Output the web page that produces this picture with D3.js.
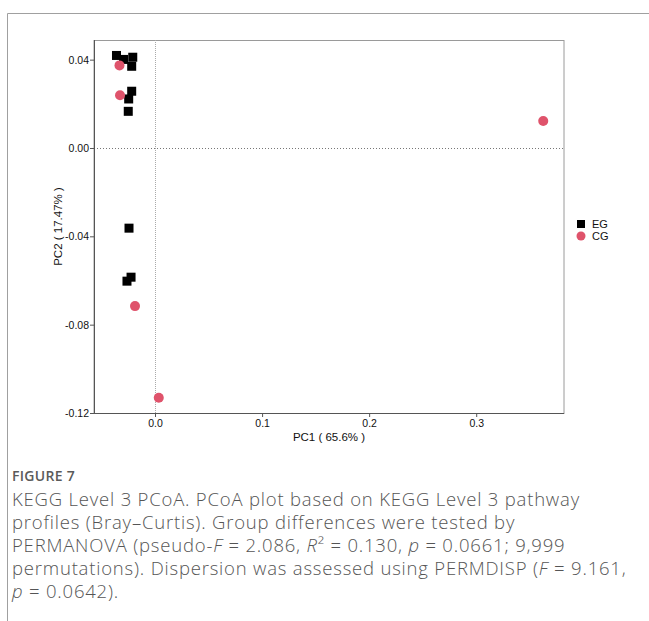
<!DOCTYPE html>
<html>
<head>
<meta charset="utf-8">
<script src="https://cdn.jsdelivr.net/npm/d3@7"></script>
<style>
  html, body { margin: 0; padding: 0; background: #fff; }
  svg { display: block; }
</style>
</head>
<body>
<svg id="chart" width="649" height="621"></svg>
<script>
// ---- data ----
const groups = ["EG", "CG"];
const egX = [-0.0360, -0.0294, -0.0208, -0.0218, -0.0218, -0.0246, -0.0250, -0.0243, -0.0224, -0.0262];
const egY = [0.0419, 0.0401, 0.0411, 0.0370, 0.0257, 0.0222, 0.0166, -0.0363, -0.0585, -0.0603];
const cgX = [-0.0332, -0.0327, -0.0187, 0.0035, 0.3626];
const cgY = [0.0374, 0.0239, -0.0716, -0.1131, 0.0122];
const xTicks = [0.0, 0.1, 0.2, 0.3];
const yTicks = [-0.12, -0.08, -0.04, 0.00, 0.04];
const xTitle = "PC1 ( 65.6% )";
const yTitle = "PC2 ( 17.47% )";

const svg = d3.select("#chart");

// outer figure frame
svg.append("path").attr("d", "M7.5,621 L7.5,13.5 L649,13.5")
  .attr("fill", "none").attr("stroke", "#a0a0a0").attr("stroke-width", 1);

const L = 94, R = 564, T = 40, B = 413;
const x = d3.scaleLinear().domain([-0.057, 0.382]).range([L, R]);
const y = d3.scaleLinear().domain([-0.12, 0.0489]).range([B, T]);

// panel border
svg.append("rect").attr("x", L).attr("y", T + 0.5).attr("width", R - L).attr("height", B - T)
  .attr("fill", "none").attr("stroke", "#9a9a9a").attr("stroke-width", 1);

// reference dotted lines
svg.append("line").attr("x1", L).attr("x2", R).attr("y1", Math.round(y(0)) + 0.5).attr("y2", Math.round(y(0)) + 0.5)
  .attr("stroke", "#777").attr("stroke-width", 1).attr("stroke-dasharray", "1,2");
svg.append("line").attr("y1", T).attr("y2", B).attr("x1", Math.round(x(0)) + 0.5).attr("x2", Math.round(x(0)) + 0.5)
  .attr("stroke", "#aaa").attr("stroke-width", 1).attr("stroke-dasharray", "1,1");

const fmtX = d => d3.format(".1f")(d).replace("−", "-");
const fmtY = d => d3.format(".2f")(d).replace("−", "-");

// axes
const gx = svg.append("g").attr("transform", `translate(0,${B})`)
  .call(d3.axisBottom(x).tickValues(xTicks).tickFormat(fmtX).tickSize(4).tickSizeOuter(0));
const gy = svg.append("g").attr("transform", `translate(${L},0)`)
  .call(d3.axisLeft(y).tickValues(yTicks).tickFormat(fmtY).tickSize(4).tickSizeOuter(0));
[gx, gy].forEach(g => {
  g.select(".domain").attr("stroke", "#555");
  g.selectAll(".tick line").attr("stroke", "#555");
  g.selectAll(".tick text").attr("fill", "#111")
    .style("font-family", "'Liberation Sans', Arial, sans-serif").style("font-size", "10.5px");
});
gx.select(".domain").attr("d", `M${L},0.5H${R}`);
gy.select(".domain").attr("d", `M0.5,${T}V${B}`);
gx.selectAll(".tick text").attr("dy", "0.71em").attr("y", 7);
gy.selectAll(".tick text").attr("x", -5);

// axis titles
svg.append("text").attr("x", (L + R) / 2).attr("y", 441).attr("text-anchor", "middle")
  .style("font-family", "'Liberation Sans', Arial, sans-serif").style("font-size", "11.5px").attr("fill", "#111")
  .text(xTitle);
svg.append("text").attr("transform", `translate(62,${(T + B) / 2}) rotate(-90)`).attr("text-anchor", "middle")
  .style("font-family", "'Liberation Sans', Arial, sans-serif").style("font-size", "11.5px").attr("fill", "#111")
  .text(yTitle);

// points
const eg = egX.map((v, i) => ({ x: v, y: egY[i] }));
const cg = cgX.map((v, i) => ({ x: v, y: cgY[i] }));
const S = 9;
svg.append("g").selectAll("rect").data(eg).join("rect")
  .attr("x", d => x(d.x) - S / 2).attr("y", d => y(d.y) - S / 2)
  .attr("width", S).attr("height", S).attr("fill", "#000");
svg.append("g").selectAll("circle").data(cg).join("circle")
  .attr("cx", d => x(d.x)).attr("cy", d => y(d.y)).attr("r", 5).attr("fill", "#DF536B");

// legend
const lg = svg.append("g").style("font-family", "'Liberation Sans', Arial, sans-serif").style("font-size", "11px");
lg.append("rect").attr("x", 577).attr("y", 220).attr("width", 8).attr("height", 8).attr("fill", "#000");
lg.append("text").attr("x", 592).attr("y", 228).attr("fill", "#111").text(groups[0]);
lg.append("circle").attr("cx", 581).attr("cy", 236).attr("r", 4.5).attr("fill", "#DF536B");
lg.append("text").attr("x", 592).attr("y", 240).attr("fill", "#111").text(groups[1]);

// caption
const cap = svg.append("g").style("font-family", "'Open Sans', 'Noto Sans', sans-serif").attr("fill", "#555");
cap.append("text").attr("x", 12).attr("y", 481).style("font-size", "14px").style("font-weight", "600")
  .style("letter-spacing", "0.3px").attr("fill", "#5a5a5a").text("FIGURE 7");
const lines = [
  [["KEGG Level 3 PCoA. PCoA plot based on KEGG Level 3 pathway", 0]],
  [["profiles (Bray\u2013Curtis). Group differences were tested by", 0]],
  [["PERMANOVA (pseudo-", 0], ["F", 1], [" = 2.086, ", 0], ["R", 1], ["\u00B2 = 0.130, ", 0], ["p", 1], [" = 0.0661; 9,999", 0]],
  [["permutations). Dispersion was assessed using PERMDISP (", 0], ["F", 1], [" = 9.161,", 0]],
  [["p", 1], [" = 0.0642).", 0]]
];
lines.forEach((ln, i) => {
  const t = cap.append("text").attr("x", 12).attr("y", 506 + i * 23)
    .style("font-size", "18.5px").style("font-weight", "300").style("letter-spacing", "0.8px");
  ln.forEach(([s, it]) => {
    t.append("tspan").style("font-style", it ? "italic" : "normal").text(s);
  });
});
</script>
</body>
</html>
